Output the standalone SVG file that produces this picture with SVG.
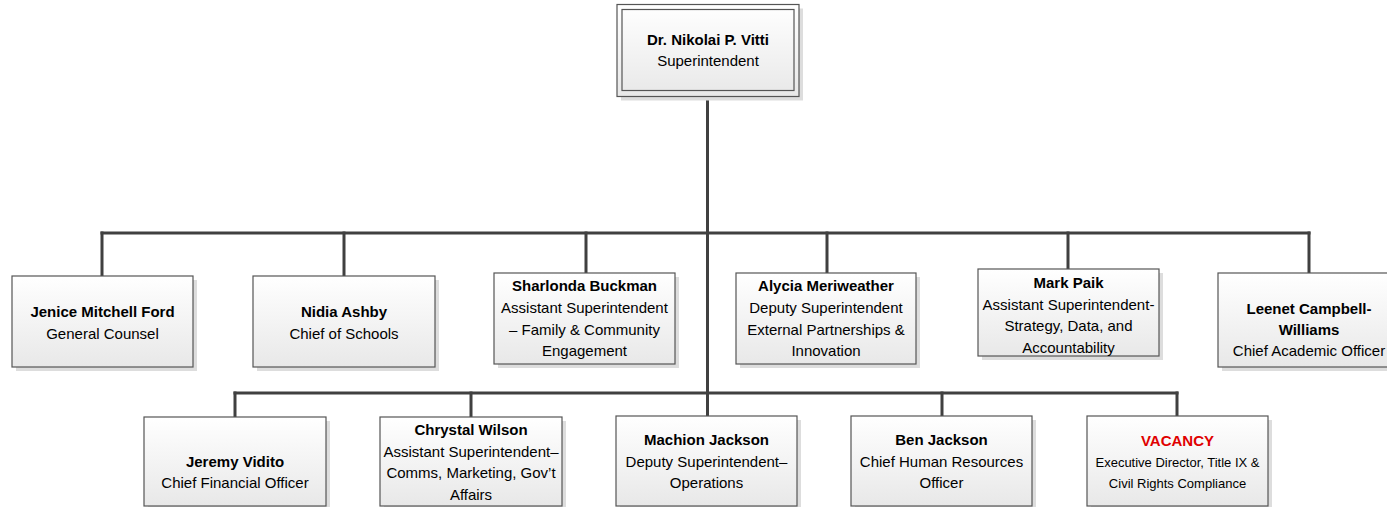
<svg xmlns="http://www.w3.org/2000/svg" width="1387" height="507" viewBox="0 0 1387 507">
<defs>
<linearGradient id="g" x1="0" y1="0" x2="0" y2="1">
<stop offset="0" stop-color="#ffffff"/>
<stop offset="1" stop-color="#e8e8e8"/>
</linearGradient>
<style>
.sh{fill:#dddddd}
.bx{fill:url(#g);stroke:#555555;stroke-width:1.2}
.in{fill:none;stroke:#555555;stroke-width:1.2}
.ln{fill:none;stroke:#404040;stroke-width:3;stroke-linecap:square}
text{font-family:"Liberation Sans",Arial,sans-serif;font-size:15px;fill:#000;text-anchor:middle}
.b{font-weight:bold}
.s{font-size:13px}
.r{fill:#e00000}
</style>
</defs>
<rect width="1387" height="507" fill="#ffffff"/>
<g id="connectors">
<path class="ln" d="M707.5 97 V416"/>
<path class="ln" d="M102 233 H1309"/>
<path class="ln" d="M102 233 V276 M344 233 V276 M586 233 V273 M827 233 V273 M1068 233 V269 M1309 233 V273"/>
<path class="ln" d="M235 393 H1177"/>
<path class="ln" d="M235 393 V417 M471 393 V417 M942 393 V416 M1177 393 V416"/>
</g>
<g id="n-vitti">
<rect class="sh" x="621" y="8.5" width="182" height="92"/>
<rect class="bx" x="617" y="4.5" width="182" height="92"/>
<rect class="in" x="622" y="9.5" width="172" height="81"/>
<text x="708" y="45" class="b">Dr. Nikolai P. Vitti</text>
<text x="708" y="66">Superintendent</text>
</g>
<g id="n-ford">
<rect class="sh" x="16" y="280" width="181" height="91"/>
<rect class="bx" x="12" y="276" width="181" height="91"/>
<text x="102.5" y="317" class="b">Jenice Mitchell Ford</text>
<text x="102.5" y="338.5">General Counsel</text>
</g>
<g id="n-ashby">
<rect class="sh" x="257" y="280" width="182" height="91"/>
<rect class="bx" x="253" y="276" width="182" height="91"/>
<text x="344" y="317" class="b">Nidia Ashby</text>
<text x="344" y="338.5">Chief of Schools</text>
</g>
<g id="n-buckman">
<rect class="sh" x="498" y="277" width="181" height="91"/>
<rect class="bx" x="494" y="273" width="181" height="91"/>
<text x="584.5" y="291" class="b">Sharlonda Buckman</text>
<text x="584.5" y="313">Assistant Superintendent</text>
<text x="584.5" y="334.5">–  Family &amp; Community</text>
<text x="584.5" y="356">Engagement</text>
</g>
<g id="n-meriweather">
<rect class="sh" x="740" y="277" width="180" height="91"/>
<rect class="bx" x="736" y="273" width="180" height="91"/>
<text x="826" y="291" class="b">Alycia Meriweather</text>
<text x="826" y="313">Deputy Superintendent</text>
<text x="826" y="334.5">External Partnerships &amp;</text>
<text x="826" y="356">Innovation</text>
</g>
<g id="n-paik">
<rect class="sh" x="982" y="273" width="181" height="87"/>
<rect class="bx" x="978" y="269" width="181" height="87"/>
<text x="1068.5" y="288" class="b">Mark Paik</text>
<text x="1068.5" y="309.5">Assistant Superintendent-</text>
<text x="1068.5" y="331">Strategy, Data, and</text>
<text x="1068.5" y="352.5">Accountability</text>
</g>
<g id="n-campbell">
<rect class="sh" x="1222" y="277" width="182" height="94"/>
<rect class="bx" x="1218" y="273" width="182" height="94"/>
<text x="1309" y="314" class="b">Leenet Campbell-</text>
<text x="1309" y="335" class="b">Williams</text>
<text x="1309" y="356">Chief Academic Officer</text>
</g>
<g id="n-vidito">
<rect class="sh" x="148" y="421" width="182" height="89"/>
<rect class="bx" x="144" y="417" width="182" height="89"/>
<text x="235" y="466.5" class="b">Jeremy Vidito</text>
<text x="235" y="488">Chief Financial Officer</text>
</g>
<g id="n-wilson">
<rect class="sh" x="384" y="421" width="182" height="89"/>
<rect class="bx" x="380" y="417" width="182" height="89"/>
<text x="471" y="435" class="b">Chrystal Wilson</text>
<text x="471" y="456.5">Assistant Superintendent–</text>
<text x="471" y="478">Comms, Marketing, Gov’t</text>
<text x="471" y="499.5">Affairs</text>
</g>
<g id="n-mjackson">
<rect class="sh" x="620" y="420" width="181" height="90"/>
<rect class="bx" x="616" y="416" width="181" height="90"/>
<text x="706.5" y="445" class="b">Machion Jackson</text>
<text x="706.5" y="466.5">Deputy Superintendent–</text>
<text x="706.5" y="488">Operations</text>
</g>
<g id="n-bjackson">
<rect class="sh" x="855" y="420" width="181" height="90"/>
<rect class="bx" x="851" y="416" width="181" height="90"/>
<text x="941.5" y="445" class="b">Ben Jackson</text>
<text x="941.5" y="466.5">Chief Human Resources</text>
<text x="941.5" y="488">Officer</text>
</g>
<g id="n-vacancy">
<rect class="sh" x="1091" y="420" width="181" height="90"/>
<rect class="bx" x="1087" y="416" width="181" height="90"/>
<text x="1177.5" y="446" class="b r">VACANCY</text>
<text x="1177.5" y="467" class="s">Executive Director, Title IX &amp;</text>
<text x="1177.5" y="487.5" class="s">Civil Rights Compliance</text>
</g>
</svg>
